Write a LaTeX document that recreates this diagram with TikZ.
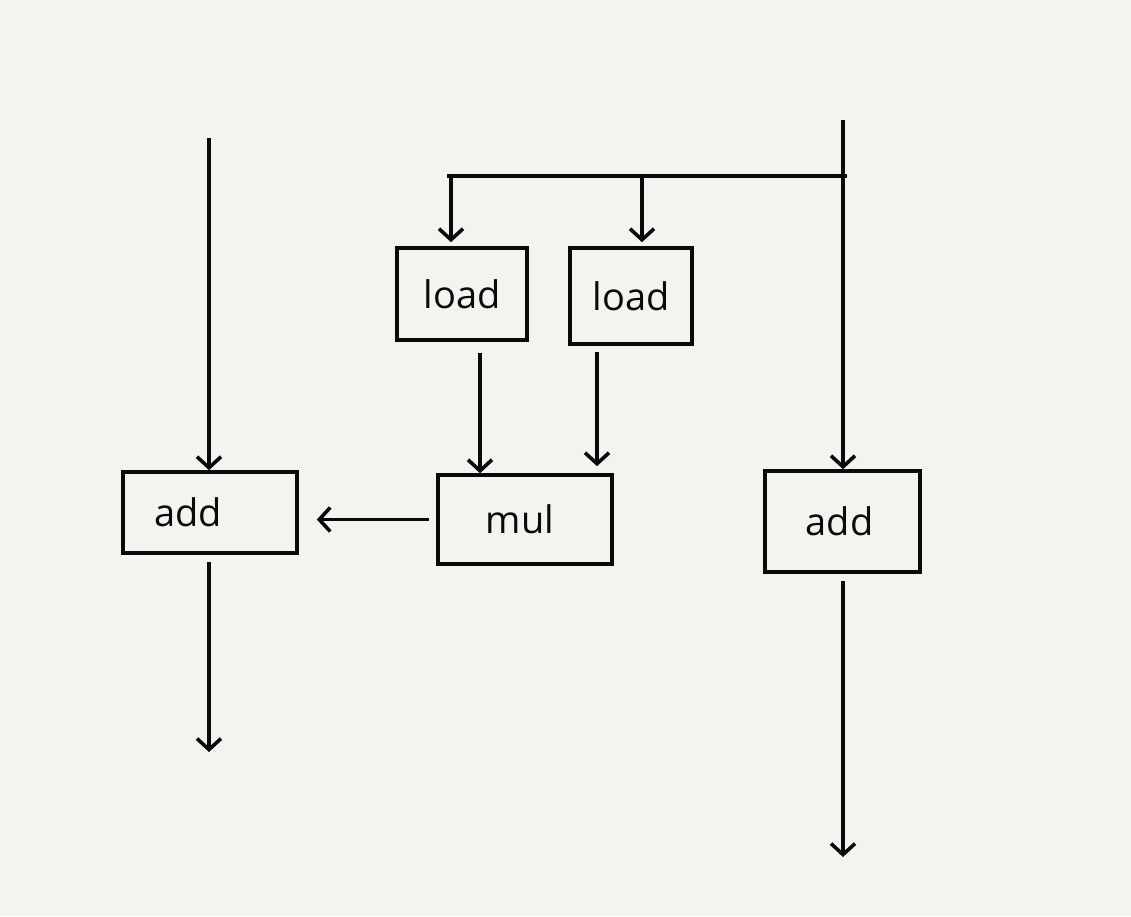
\documentclass[tikz,border=0pt]{standalone}
\usepackage{fontspec}
\setmainfont{Open Sans}
\usetikzlibrary{arrows.meta}
\definecolor{bg}{HTML}{F4F3F0}
\definecolor{ink}{HTML}{0A0A0A}
\begin{document}
\begin{tikzpicture}[x=1pt,y=-1pt,
  box/.style={draw=ink, line width=3.6pt, inner sep=0pt, text=ink,
    font=\fontsize{38}{42}\selectfont},
  arr/.style={draw=ink, line width=3.6pt,
    -{Straight Barb[length=11pt,width=24pt,line width=3.6pt]}},
  plain/.style={draw=ink, line width=3.6pt}]
\fill[bg] (0,0) rectangle (1131,916);
\useasboundingbox (0,0) rectangle (1131,916);
% boxes
\node[box, minimum width=174pt, minimum height=81pt] (addL) at (210,512.5) {add\hspace*{44pt}};
\node[box, minimum width=174pt, minimum height=89pt] (mul) at (525,519.5) {mul\hspace*{10pt}};
\node[box, minimum width=130pt, minimum height=92pt] (ldA) at (462,294) {load};
\node[box, minimum width=122pt, minimum height=96pt] (ldB) at (631,296) {load};
\node[box, minimum width=155pt, minimum height=101pt] (addR) at (842.5,521.5) {add\hspace*{6pt}};
% free ends and junctions
\coordinate (inL) at (209,138);
\coordinate (outL) at (209,752);
\coordinate (inR) at (843,120);
\coordinate (outR) at (843,857);
\coordinate (jL) at (447,176);
\coordinate (jR) at (847,176);
\coordinate (jA) at (451,176);
\coordinate (jB) at (642,176);
\coordinate (xA) at (480,0);
\coordinate (xB) at (597,0);
% connectors
\draw[arr] (inL) -- (inL |- addL.north);
\draw[arr, shorten <=7pt] (addL.south -| outL) -- (outL);
\draw[arr, shorten <=7pt, shorten >=18pt] (mul.west) -- (mul.west -| addL.east);
\draw[plain] (jL) -- (jR);
\draw[arr, shorten >=4pt] (jA) -- (jA |- ldA.north);
\draw[arr, shorten >=4pt] (jB) -- (jB |- ldB.north);
\draw[arr, shorten <=11pt] (xA |- ldA.south) -- (xA |- mul.north);
\draw[arr, shorten <=6pt, shorten >=7pt] (xB |- ldB.south) -- (xB |- mul.north);
\draw[arr] (inR) -- (inR |- addR.north);
\draw[arr, shorten <=7pt] (addR.south -| outR) -- (outR);
\end{tikzpicture}
\end{document}
